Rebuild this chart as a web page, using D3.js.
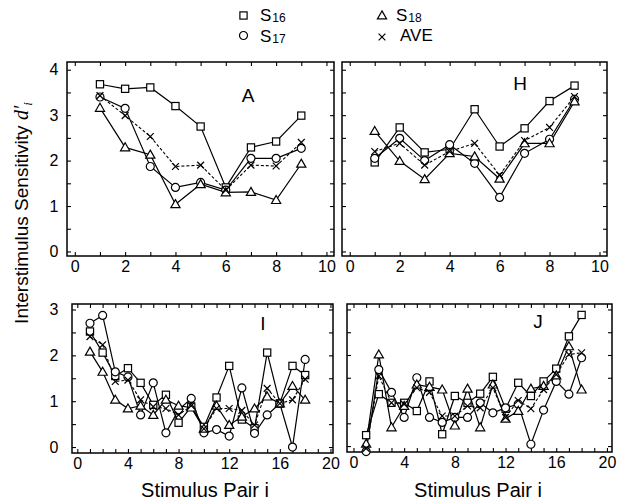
<!DOCTYPE html>
<html>
<head>
<meta charset="utf-8">
<script src="https://cdn.jsdelivr.net/npm/d3@7"></script>
<style>
  body { margin: 0; background: #fff; }
  svg { font-family: "Liberation Sans", Arial, Helvetica, sans-serif; }
</style>
</head>
<body>
<div id="chart"></div>
<script>
// stimulus pairs
var pairsAH = [1, 2, 3, 4, 5, 6, 7, 8, 9];
var pairsIJ = [1, 2, 3, 4, 5, 6, 7, 8, 9, 10, 11, 12, 13, 14, 15, 16, 17, 18];

// panel A
var A_S16 = [3.68, 3.58, 3.61, 3.20, 2.75, 1.41, 2.29, 2.42, 2.99];
var A_S17 = [3.40, 3.15, 1.87, 1.41, 1.52, 1.35, 2.05, 2.05, 2.27];
var A_S18 = [3.16, 2.29, 2.13, 1.04, 1.48, 1.30, 1.31, 1.13, 1.93];
var A_AVE = [3.43, 2.99, 2.53, 1.87, 1.90, 1.35, 1.90, 1.88, 2.40];

// panel H
var H_S16 = [1.96, 2.73, 2.18, 2.25, 3.13, 2.31, 2.71, 3.31, 3.65];
var H_S17 = [2.05, 2.49, 2.00, 2.35, 1.94, 1.19, 2.16, 2.47, 3.35];
var H_S18 = [2.65, 1.99, 1.59, 2.16, 2.09, 1.60, 2.38, 2.38, 3.30];
var H_AVE = [2.20, 2.38, 1.90, 2.20, 2.38, 1.68, 2.44, 2.73, 3.41];

// panel I
var I_S16 = [2.52, 2.06, 1.55, 1.72, 1.40, 0.92, 1.14, 0.53, 0.88, 0.44, 1.08, 1.77, 0.60, 0.41, 2.06, 0.95, 1.77, 1.57];
var I_S17 = [2.70, 2.87, 1.64, 1.53, 0.70, 1.40, 0.31, 0.81, 1.06, 0.31, 0.38, 0.24, 1.29, 0.30, 0.70, 0.95, 0.00, 1.91];
var I_S18 = [2.08, 1.64, 1.03, 0.84, 0.90, 0.70, 1.03, 0.90, 0.86, 0.40, 0.90, 0.48, 0.66, 0.84, 1.10, 0.95, 1.33, 1.03];
var I_AVE = [2.41, 2.23, 1.43, 1.46, 1.03, 0.88, 0.84, 0.70, 0.90, 0.40, 0.84, 0.84, 0.80, 0.48, 1.28, 0.95, 1.03, 1.48];

// panel J
var J_S16 = [0.24, 1.14, 0.95, 0.95, 0.77, 1.42, 0.26, 1.10, 0.95, 1.15, 1.52, 0.82, 1.39, 1.10, 1.42, 1.70, 2.41, 2.88];
var J_S17 = [-0.12, 1.68, 1.18, 0.63, 1.50, 0.63, 0.52, 0.63, 0.63, 0.95, 0.73, 0.84, 0.92, 0.04, 0.79, 1.42, 1.14, 1.94];
var J_S18 = [0.05, 2.01, 0.41, 0.88, 1.35, 1.30, 1.24, 0.45, 1.26, 0.41, 1.35, 0.60, 0.77, 1.26, 1.32, 1.55, 2.19, 1.24];
var J_AVE = [-0.05, 1.54, 0.95, 0.92, 1.28, 1.18, 0.66, 0.66, 0.88, 0.84, 1.28, 0.63, 1.00, 0.82, 1.24, 1.57, 2.01, 2.05];

// ticks
var xTicksTop = [0, 1, 2, 3, 4, 5, 6, 7, 8, 9, 10];
var xLabelsTop = [0, 2, 4, 6, 8, 10];
var yTicksTop = [0, 0.5, 1, 1.5, 2, 2.5, 3, 3.5, 4];
var yLabelsTop = [0, 1, 2, 3, 4];
var xTicksBot = [0, 1, 2, 3, 4, 5, 6, 7, 8, 9, 10, 11, 12, 13, 14, 15, 16, 17, 18, 19, 20];
var xLabelsBot = [0, 4, 8, 12, 16, 20];
var yTicksBot = [0, 0.5, 1, 1.5, 2, 2.5, 3];
var yLabelsBot = [0, 1, 2, 3];

var width = 627, height = 502;

var svg = d3.select("#chart")
  .append("svg")
    .attr("width", width)
    .attr("height", height);

// marker shapes
function marker(sel, key) {
  if (key === "S16") {
    sel.append("rect").attr("x", -3.6).attr("y", -3.6).attr("width", 7.2).attr("height", 7.2);
  } else if (key === "S17") {
    sel.append("circle").attr("r", 4);
  } else if (key === "S18") {
    sel.append("path").attr("d", "M0,-4.6L4.6,3.4L-4.6,3.4Z");
  } else {
    sel.append("path").attr("d", "M-3.4,-3.4L3.4,3.4M-3.4,3.4L3.4,-3.4");
  }
}

var panels = [
  { letter: "A", lx: 248, ly: 102, left: 67, right: 334, top: 62, bottom: 256,
    xDomain: [-0.31, 10.3], yDomain: [-0.1, 4.17], pairs: pairsAH,
    xTicks: xTicksTop, xLabels: xLabelsTop, yTicks: yTicksTop, yLabels: yLabelsTop, showY: true,
    series: [["S16", A_S16], ["S17", A_S17], ["S18", A_S18], ["AVE", A_AVE]] },
  { letter: "H", lx: 520, ly: 90, left: 342, right: 607, top: 62, bottom: 256,
    xDomain: [-0.31, 10.3], yDomain: [-0.1, 4.17], pairs: pairsAH,
    xTicks: xTicksTop, xLabels: xLabelsTop, yTicks: yTicksTop, yLabels: yLabelsTop, showY: false,
    series: [["S16", H_S16], ["S17", H_S17], ["S18", H_S18], ["AVE", H_AVE]] },
  { letter: "I", lx: 263, ly: 330, left: 72, right: 333, top: 304, bottom: 453,
    xDomain: [-0.42, 20.2], yDomain: [-0.13, 3.12], pairs: pairsIJ,
    xTicks: xTicksBot, xLabels: xLabelsBot, yTicks: yTicksBot, yLabels: yLabelsBot, showY: true,
    series: [["S16", I_S16], ["S17", I_S17], ["S18", I_S18], ["AVE", I_AVE]] },
  { letter: "J", lx: 538, ly: 328, left: 347, right: 612, top: 304, bottom: 452,
    xDomain: [-0.51, 20.4], yDomain: [-0.13, 3.12], pairs: pairsIJ,
    xTicks: xTicksBot, xLabels: xLabelsBot, yTicks: yTicksBot, yLabels: yLabelsBot, showY: false,
    series: [["S16", J_S16], ["S17", J_S17], ["S18", J_S18], ["AVE", J_AVE]] }
];

panels.forEach(function(p) {
  var x = d3.scaleLinear().domain(p.xDomain).range([p.left, p.right]);
  var y = d3.scaleLinear().domain(p.yDomain).range([p.bottom, p.top]);
  var g = svg.append("g");

  // inward ticks on all four sides
  function ticks(axis, tx, ty) {
    g.append("g")
      .attr("transform", "translate(" + tx + "," + ty + ")")
      .call(axis.tickSize(-4).tickFormat(""))
      .call(function(a) { a.select(".domain").remove(); })
      .selectAll("line").attr("stroke", "#000").attr("stroke-width", 1.1);
  }
  ticks(d3.axisBottom(x).tickValues(p.xTicks), 0, p.bottom);
  ticks(d3.axisTop(x).tickValues(p.xTicks), 0, p.top);
  ticks(d3.axisLeft(y).tickValues(p.yTicks), p.left, 0);
  ticks(d3.axisRight(y).tickValues(p.yTicks), p.right, 0);

  // tick labels
  var xl = g.append("g")
    .attr("transform", "translate(0," + p.bottom + ")")
    .call(d3.axisBottom(x).tickValues(p.xLabels).tickSize(0).tickPadding(5).tickFormat(d3.format("d")));
  xl.select(".domain").remove();
  xl.selectAll("text").attr("font-size", 16).attr("fill", "#000").attr("font-family", null);

  if (p.showY) {
    var yl = g.append("g")
      .attr("transform", "translate(" + p.left + ",0)")
      .call(d3.axisLeft(y).tickValues(p.yLabels).tickSize(0).tickPadding(p.left - 58.5).tickFormat(d3.format("d")));
    yl.select(".domain").remove();
    yl.selectAll("text").attr("font-size", 16).attr("fill", "#000").attr("font-family", null);
  }

  // frame
  g.append("rect")
    .attr("x", p.left).attr("y", p.top)
    .attr("width", p.right - p.left).attr("height", p.bottom - p.top)
    .attr("fill", "none").attr("stroke", "#000").attr("stroke-width", 1.5);

  // panel letter
  g.append("text")
    .attr("x", p.lx).attr("y", p.ly)
    .attr("text-anchor", "middle")
    .attr("font-size", 19)
    .text(p.letter);

  var line = d3.line()
    .x(function(d, i) { return x(p.pairs[i]); })
    .y(function(d) { return y(d); });

  // lines first, markers on top
  p.series.forEach(function(s) {
    g.append("path")
      .datum(s[1])
      .attr("d", line)
      .attr("fill", "none")
      .attr("stroke", "#000")
      .attr("stroke-width", s[0] === "AVE" ? 1.1 : 1.2)
      .attr("stroke-dasharray", s[0] === "AVE" ? "3,2" : null);
  });

  p.series.forEach(function(s) {
    g.selectAll(null)
      .data(s[1])
      .enter()
      .append("g")
        .attr("transform", function(d, i) { return "translate(" + x(p.pairs[i]) + "," + y(d) + ")"; })
        .attr("fill", "#fff")
        .attr("stroke", "#000")
        .attr("stroke-width", 1.2)
        .each(function() { marker(d3.select(this), s[0]); });
  });
});

// legend
var legend = [
  { key: "S16", base: "S", sub: "16", mx: 243.5, my: 15.5, tx: 260, ty: 20.5 },
  { key: "S17", base: "S", sub: "17", mx: 243.5, my: 35.5, tx: 260, ty: 41.5 },
  { key: "S18", base: "S", sub: "18", mx: 382, my: 15.5, tx: 396, ty: 20.5 },
  { key: "AVE", base: "AVE", sub: "", mx: 382, my: 37, tx: 400, ty: 41 }
];
legend.forEach(function(l) {
  var m = svg.append("g")
    .attr("transform", "translate(" + l.mx + "," + l.my + ")")
    .attr("fill", "#fff").attr("stroke", "#000").attr("stroke-width", 1.2);
  marker(m, l.key);
  var t = svg.append("text").attr("x", l.tx).attr("y", l.ty).attr("font-size", 17);
  t.append("tspan").text(l.base);
  if (l.sub) t.append("tspan").attr("font-size", 12).attr("dy", 1.5).attr("dx", 1).text(l.sub);
});

// axis titles
[205, 478].forEach(function(cx) {
  svg.append("text")
    .attr("x", cx).attr("y", 496.5)
    .attr("text-anchor", "middle")
    .attr("font-size", 20)
    .text("Stimulus Pair i");
});

var yt = svg.append("text")
  .attr("transform", "translate(28,213) rotate(-90)")
  .attr("text-anchor", "middle")
  .attr("font-size", 19);
yt.append("tspan").text("Interstimulus Sensitivity  ");
yt.append("tspan").attr("font-style", "italic").attr("font-family", "'Liberation Serif', serif").attr("font-size", 20).text("d′");
yt.append("tspan").attr("font-style", "italic").attr("font-family", "'Liberation Serif', serif").attr("font-size", 13).attr("dy", 4).text("i");
</script>
</body>
</html>
